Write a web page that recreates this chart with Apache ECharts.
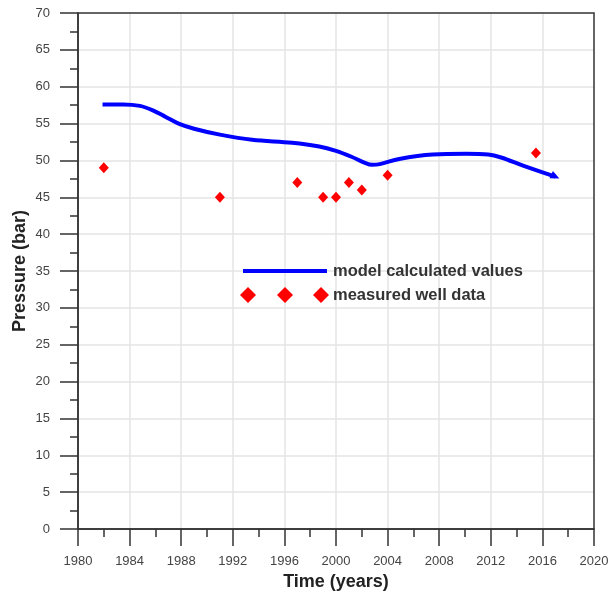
<!DOCTYPE html>
<html><head><meta charset="utf-8">
<script src="https://cdn.jsdelivr.net/npm/echarts@6/dist/echarts.min.js"></script>
<style>html,body{margin:0;padding:0;background:#fff}#c{width:608px;height:592px}</style>
</head><body><div id="c"></div>
<script>
// Model calculated values (year, pressure bar)
const modelYears = [1981.9, 1983.5, 1984.8, 1985.8, 1986.8, 1987.8, 1989.0, 1991.0, 1993.5, 1996.6, 1998.7, 2000.0, 2001.2, 2002.2, 2002.8, 2003.4, 2004.9, 2007.5, 2010.1, 2011.8, 2012.8, 2014.5, 2017.0];
const modelValues = [57.6, 57.6, 57.4, 56.8, 55.9, 55.0, 54.3, 53.5, 52.8, 52.4, 51.9, 51.3, 50.5, 49.7, 49.4, 49.5, 50.2, 50.8, 50.9, 50.8, 50.4, 49.3, 47.8];
// Measured well data
const wellYears = [1982, 1991, 1997, 1999, 2000, 2001, 2002, 2004, 2015.5];
const wellValues = [49, 45, 47, 45, 45, 47, 46, 48, 51];
const xTicks = {min: 1980, max: 2020, interval: 4};
const yTicks = {min: 0, max: 70, interval: 5};
const seriesNames = ['model calculated values', 'measured well data'];

const chart = echarts.init(document.getElementById('c'), null, {renderer: 'canvas'});
const font = '"Liberation Sans", Arial, sans-serif';
const modelData = modelYears.map((y, i) => {
  const d = {value: [y, modelValues[i]]};
  if (i === modelYears.length - 1) { d.symbol = 'triangle'; d.symbolSize = [8, 9]; d.symbolRotate = -115; }
  return d;
});
chart.setOption({
  animation: false,
  grid: {left: 78, right: 14, top: 13, bottom: 63, outerBoundsMode: 'none', containLabel: false, show: true, borderColor: '#333', borderWidth: 1.5, backgroundColor: 'transparent', z: 3},
  xAxis: {
    type: 'value', min: xTicks.min, max: xTicks.max, interval: xTicks.interval,
    name: 'Time (years)', nameLocation: 'middle', nameGap: 41,
    nameTextStyle: {fontFamily: font, fontSize: 18, fontWeight: 'bold', color: '#222'},
    axisLine: {show: true, onZero: false, lineStyle: {color: '#333', width: 1.5}},
    axisTick: {show: true, length: 17, lineStyle: {color: '#333', width: 1.5}},
    minorTick: {show: true, splitNumber: 2, length: 8, lineStyle: {color: '#333', width: 1.5}},
    splitLine: {show: true, showMinLine: false, showMaxLine: false, lineStyle: {color: '#e4e4e4', width: 1.5}},
    axisLabel: {margin: 26, fontFamily: font, fontSize: 13, color: '#444', formatter: v => String(v)}
  },
  yAxis: {
    type: 'value', min: yTicks.min, max: yTicks.max, interval: yTicks.interval,
    name: 'Pressure (bar)', nameLocation: 'middle', nameGap: 49, nameMoveOverlap: false,
    nameTextStyle: {fontFamily: font, fontSize: 18, fontWeight: 'bold', color: '#222'},
    axisLine: {show: true, onZero: false, lineStyle: {color: '#333', width: 1.5}},
    axisTick: {show: true, length: 18, lineStyle: {color: '#333', width: 1.5}},
    minorTick: {show: true, splitNumber: 2, length: 8, lineStyle: {color: '#333', width: 1.5}},
    splitLine: {show: true, showMinLine: false, showMaxLine: false, lineStyle: {color: '#e4e4e4', width: 1.5}},
    axisLabel: {margin: 28, fontFamily: font, fontSize: 13, color: '#444'}
  },
  series: [
    {
      name: seriesNames[0], type: 'line', data: modelData, smooth: 0.35,
      showSymbol: true, symbol: 'none', itemStyle: {color: '#0000ff'},
      lineStyle: {color: '#0000ff', width: 4}, z: 3
    },
    {
      name: seriesNames[1], type: 'scatter', data: wellYears.map((y, i) => [y, wellValues[i]]),
      symbol: 'diamond', symbolSize: [10, 11], itemStyle: {color: '#ff0000', opacity: 1}, z: 4
    }
  ],
  graphic: {elements: [
    {type: 'line', z: 100, shape: {x1: 243, y1: 271, x2: 327, y2: 271}, style: {stroke: '#0000ff', lineWidth: 4}},
    {type: 'text', z: 100, x: 333, y: 271, style: {text: seriesNames[0], font: 'bold 16.5px ' + font, fill: '#333', verticalAlign: 'middle'}},
    {type: 'polygon', z: 100, shape: {points: [[248, 287], [256, 295], [248, 303], [240, 295]]}, style: {fill: '#ff0000'}},
    {type: 'polygon', z: 100, shape: {points: [[285, 287], [293, 295], [285, 303], [277, 295]]}, style: {fill: '#ff0000'}},
    {type: 'polygon', z: 100, shape: {points: [[321, 287], [329, 295], [321, 303], [313, 295]]}, style: {fill: '#ff0000'}},
    {type: 'text', z: 100, x: 333, y: 295, style: {text: seriesNames[1], font: 'bold 16.5px ' + font, fill: '#333', verticalAlign: 'middle'}}
  ]}
});
</script></body></html>
